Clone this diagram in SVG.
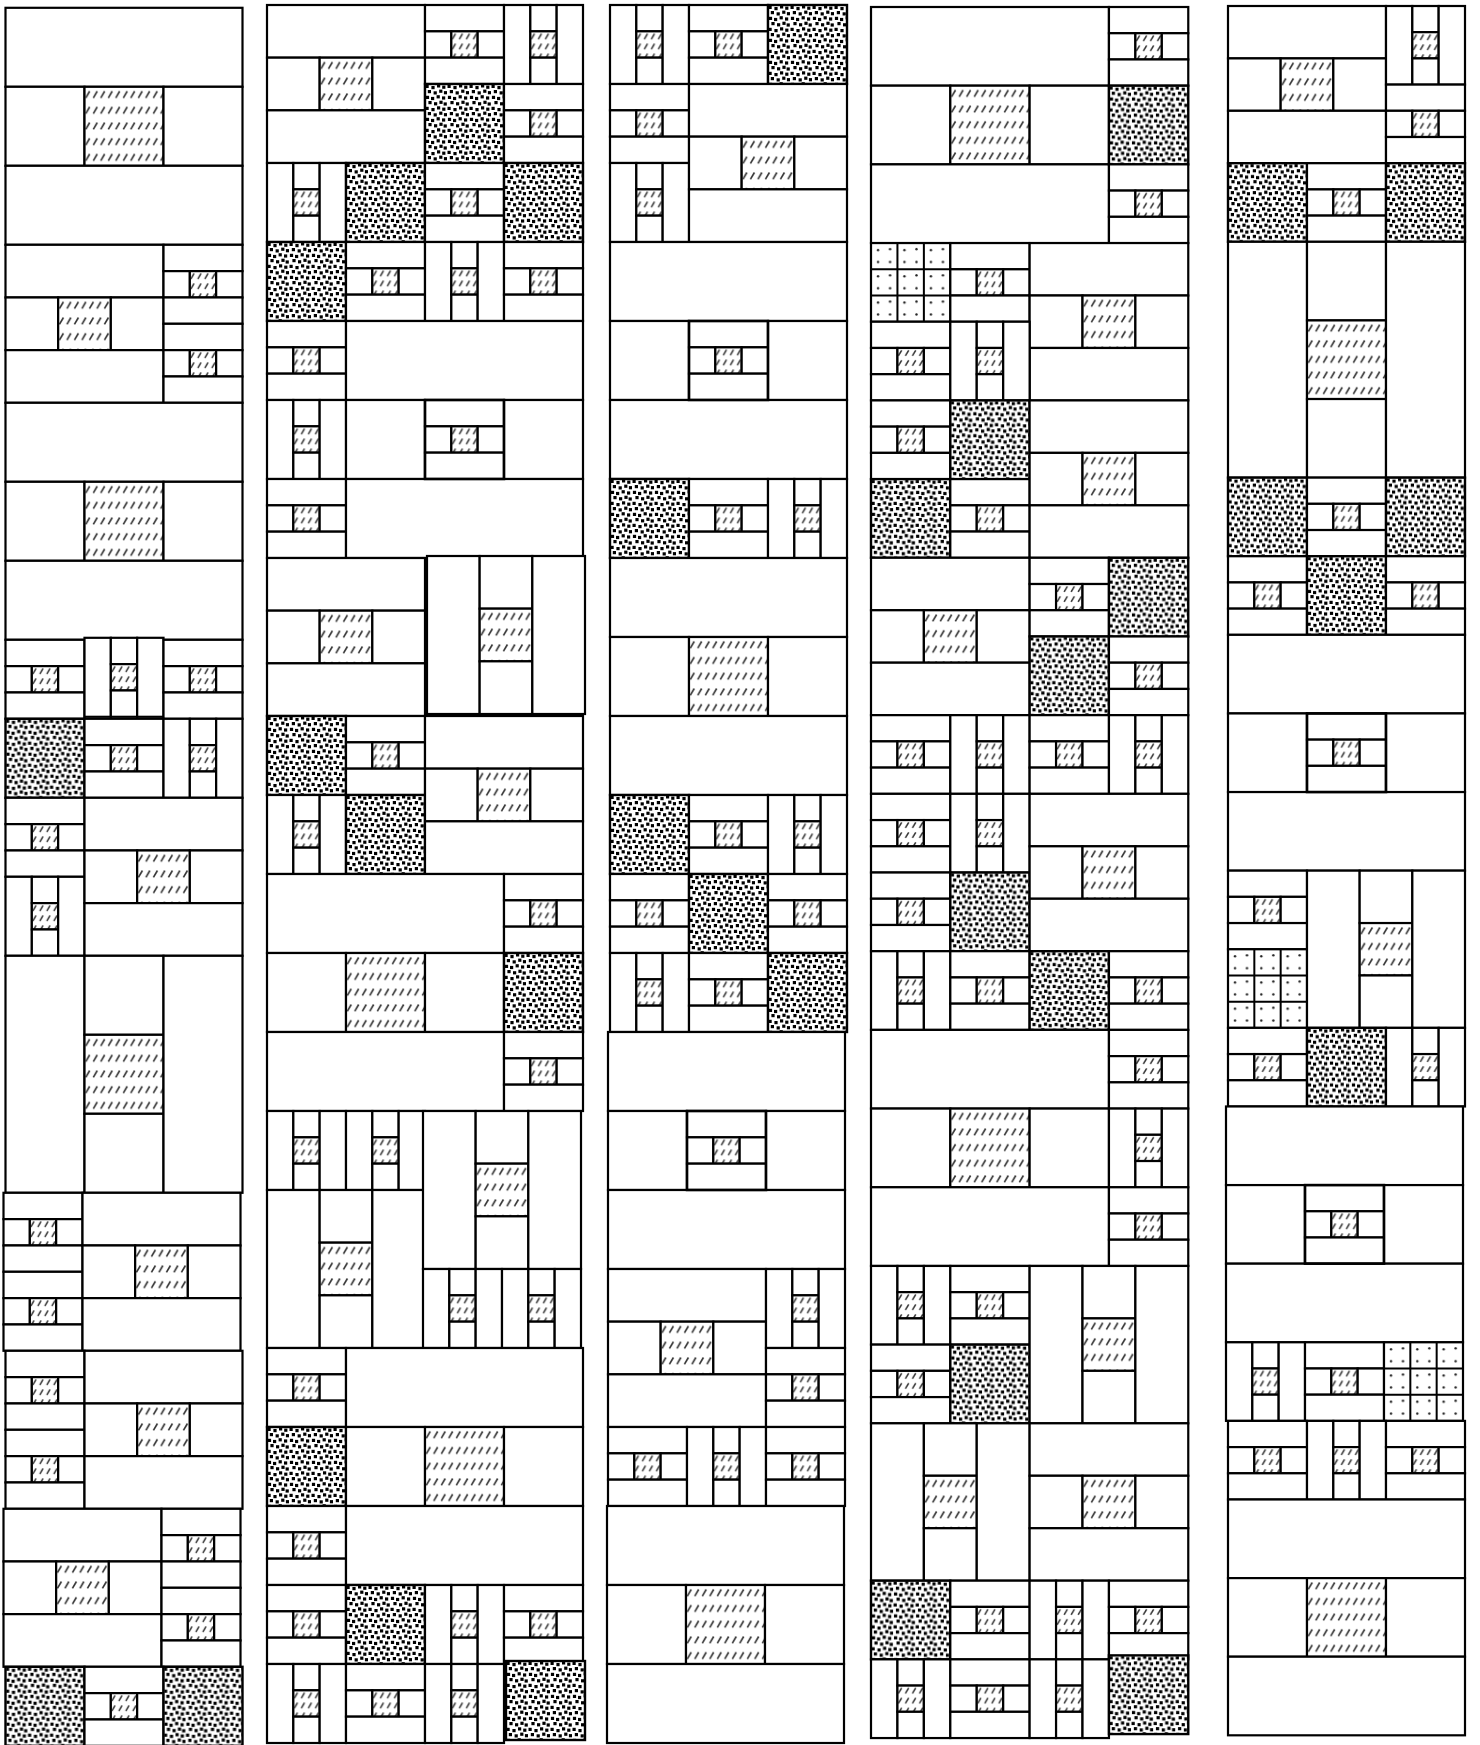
<svg xmlns="http://www.w3.org/2000/svg" width="1480" height="1745" viewBox="0 0 1480 1745">
<style>
.w{fill:#fff;stroke:#000;stroke-width:2.2}
.hs{fill:url(#pS);stroke:#000;stroke-width:2.2}
.hl{fill:url(#pL);stroke:#000;stroke-width:2.2}
.dd{fill:url(#pD);stroke:#000;stroke-width:2.4}
</style>
<defs>
<pattern id="pS" patternUnits="userSpaceOnUse" width="7" height="10"><rect width="7" height="10" fill="#fff"/><line x1="1" y1="7.8" x2="4.2" y2="2.3" stroke="#333" stroke-width="1.5"/></pattern>
<pattern id="pL" patternUnits="userSpaceOnUse" width="7.5" height="15.7"><rect width="7.5" height="15.7" fill="#fff"/><line x1="1.3" y1="11.2" x2="5.2" y2="4.4" stroke="#333" stroke-width="1.6"/></pattern>
<pattern id="pD" patternUnits="userSpaceOnUse" width="22" height="22"><rect width="22" height="22" fill="#fff"/><g fill="#000">
<rect x="0.5" y="0.8" width="3.2" height="3.2"/><rect x="6.4" y="2.0" width="3.2" height="3.2"/><rect x="12.0" y="0.3" width="3.2" height="3.2"/><rect x="17.2" y="1.6" width="3.2" height="3.2"/>
<rect x="2.8" y="6.0" width="3.2" height="3.2"/><rect x="8.6" y="7.3" width="3.2" height="3.2"/><rect x="14.2" y="5.6" width="3.2" height="3.2"/><rect x="18.9" y="7.1" width="3.1" height="3.2"/>
<rect x="0.9" y="11.8" width="3.2" height="3.2"/><rect x="6.0" y="12.9" width="3.2" height="3.2"/><rect x="11.6" y="11.2" width="3.2" height="3.2"/><rect x="17.0" y="12.4" width="3.2" height="3.2"/>
<rect x="3.4" y="17.0" width="3.2" height="3.2"/><rect x="9.0" y="18.2" width="3.2" height="3.2"/><rect x="14.4" y="16.7" width="3.2" height="3.2"/><rect x="18.6" y="18.4" width="3.2" height="3.2"/>
</g></pattern>
<pattern id="pG" patternUnits="userSpaceOnUse" width="26.333" height="26.333"><rect width="26.333" height="26.333" fill="#fff"/><g fill="#222"><circle cx="7" cy="7" r="1.2"/><circle cx="19" cy="6" r="1.2"/><circle cx="7" cy="19" r="1.2"/><circle cx="19" cy="19" r="1.2"/></g></pattern>
<rect id="hatS" class="hs" width="26.333" height="26.333"/>
<rect id="hatM" class="hl" width="52.667" height="52.667"/>
<rect id="hatL" class="hl" width="79" height="79"/>
<rect id="dd" class="dd" width="79" height="79"/>
<g id="gg"><rect width="79" height="79" fill="url(#pG)"/><path d="M26.333 0V79M52.667 0V79M0 26.333H79M0 52.667H79" stroke="#000" stroke-width="2" fill="none"/><rect width="79" height="79" fill="none" stroke="#000" stroke-width="2.2"/></g>
<g id="hb1"><rect class="w" width="79" height="26.333"/><rect class="w" y="26.333" width="26.333" height="26.333"/><use href="#hatS" x="26.333" y="26.333"/><rect class="w" x="52.667" y="26.333" width="26.333" height="26.333"/><rect class="w" y="52.667" width="79" height="26.333"/></g>
<g id="vb1"><rect class="w" width="26.333" height="79"/><rect class="w" x="26.333" width="26.333" height="26.333"/><use href="#hatS" x="26.333" y="26.333"/><rect class="w" x="26.333" y="52.667" width="26.333" height="26.333"/><rect class="w" x="52.667" width="26.333" height="79"/></g>
<g id="hb2"><rect class="w" width="158" height="52.667"/><rect class="w" y="52.667" width="52.667" height="52.667"/><use href="#hatM" x="52.667" y="52.667"/><rect class="w" x="105.333" y="52.667" width="52.667" height="52.667"/><rect class="w" y="105.333" width="158" height="52.667"/></g>
<g id="vb2"><rect class="w" width="52.667" height="158"/><rect class="w" x="52.667" width="52.667" height="52.667"/><use href="#hatM" x="52.667" y="52.667"/><rect class="w" x="52.667" y="105.333" width="52.667" height="52.667"/><rect class="w" x="105.333" width="52.667" height="158"/></g>
<g id="hb3"><rect class="w" width="237" height="79"/><rect class="w" y="79" width="79" height="79"/><use href="#hatL" x="79" y="79"/><rect class="w" x="158" y="79" width="79" height="79"/><rect class="w" y="158" width="237" height="79"/></g>
<g id="hb3n"><rect class="w" width="237" height="79"/><rect class="w" y="79" width="79" height="79"/><use href="#hb1" x="79" y="79"/><rect class="w" x="158" y="79" width="79" height="79"/><rect class="w" y="158" width="237" height="79"/><rect x="79" y="79" width="79" height="79" fill="none" stroke="#000" stroke-width="2.5"/></g>
<g id="vb3"><rect class="w" width="79" height="237"/><rect class="w" x="79" width="79" height="79"/><use href="#hatL" x="79" y="79"/><rect class="w" x="79" y="158" width="79" height="79"/><rect class="w" x="158" width="79" height="237"/></g>
</defs>
<rect width="1480" height="1745" fill="#fff"/>
<g id="column1" transform="translate(5.5,7.8)">
<use href="#hb3"/>
<use href="#hb2" y="237"/><use href="#hb1" x="158" y="237"/><use href="#hb1" x="158" y="316"/>
<use href="#hb3" y="395"/>
<use href="#hb1" y="632"/><use href="#vb1" x="79" y="630"/><use href="#hb1" x="158" y="632"/>
<use href="#dd" y="711"/><use href="#hb1" x="79" y="711"/><use href="#vb1" x="158" y="711"/>
<use href="#hb1" y="790"/><use href="#vb1" y="869"/><use href="#hb2" x="79" y="790"/>
<use href="#vb3" y="948"/>
<use href="#hb1" x="-2" y="1185"/><use href="#hb1" x="-2" y="1264"/><use href="#hb2" x="77" y="1185"/>
<use href="#hb1" y="1343"/><use href="#hb1" y="1422"/><use href="#hb2" x="79" y="1343"/>
<use href="#hb2" x="-2" y="1501"/><use href="#hb1" x="156" y="1501"/><use href="#hb1" x="156" y="1580"/>
<use href="#dd" y="1659"/><use href="#hb1" x="79" y="1659"/><use href="#dd" x="158" y="1659"/>
</g>
<g id="column2" transform="translate(267,5)">
<use href="#hb2"/><use href="#hb1" x="158"/><use href="#vb1" x="237"/><use href="#dd" x="158" y="79"/><use href="#hb1" x="237" y="79"/>
<use href="#vb1" y="158"/><use href="#dd" x="79" y="158"/><use href="#hb1" x="158" y="158"/><use href="#dd" x="237" y="158"/>
<use href="#dd" y="237"/><use href="#hb1" x="79" y="237"/><use href="#vb1" x="158" y="237"/><use href="#hb1" x="237" y="237"/>
<use href="#hb1" y="316"/><use href="#vb1" y="395"/><use href="#hb1" y="474"/><use href="#hb3n" x="79" y="316"/>
<use href="#hb2" y="553"/><use href="#vb2" x="160" y="551"/>
<use href="#dd" y="711"/><use href="#vb1" y="790"/><use href="#hb1" x="79" y="711"/><use href="#dd" x="79" y="790"/><use href="#hb2" x="158" y="711"/>
<use href="#hb3" y="869"/><use href="#hb1" x="237" y="869"/><use href="#dd" x="237" y="948"/><use href="#hb1" x="237" y="1027"/>
<use href="#vb1" y="1106"/><use href="#vb1" x="79" y="1106"/><use href="#vb2" y="1185"/><use href="#vb2" x="156" y="1106"/><use href="#vb1" x="156" y="1264"/><use href="#vb1" x="235" y="1264"/>
<use href="#hb1" y="1343"/><use href="#dd" y="1422"/><use href="#hb1" y="1501"/><use href="#hb3" x="79" y="1343"/>
<use href="#hb1" y="1580"/><use href="#dd" x="79" y="1580"/><use href="#vb1" x="158" y="1580"/><use href="#hb1" x="237" y="1580"/>
<use href="#vb1" y="1659"/><use href="#hb1" x="79" y="1659"/><use href="#vb1" x="158" y="1659"/><use href="#dd" x="239" y="1656"/>
</g>
<g id="column3" transform="translate(610,5)">
<use href="#vb1"/><use href="#hb1" x="79"/><use href="#dd" x="158"/>
<use href="#hb1" y="79"/><use href="#vb1" y="158"/><use href="#hb2" x="79" y="79"/>
<use href="#hb3n" y="237"/>
<use href="#dd" y="474"/><use href="#hb1" x="79" y="474"/><use href="#vb1" x="158" y="474"/>
<use href="#hb3" y="553"/>
<use href="#dd" y="790"/><use href="#hb1" x="79" y="790"/><use href="#vb1" x="158" y="790"/>
<use href="#hb1" y="869"/><use href="#dd" x="79" y="869"/><use href="#hb1" x="158" y="869"/>
<use href="#vb1" y="948"/><use href="#hb1" x="79" y="948"/><use href="#dd" x="158" y="948"/>
<use href="#hb3n" x="-2" y="1027"/>
<use href="#hb2" x="-2" y="1264"/><use href="#vb1" x="156" y="1264"/><use href="#hb1" x="156" y="1343"/>
<use href="#hb1" x="-2" y="1422"/><use href="#vb1" x="77" y="1422"/><use href="#hb1" x="156" y="1422"/>
<use href="#hb3" x="-3" y="1501"/>
</g>
<g id="column4" transform="translate(871,7) scale(1.004,0.996)">
<use href="#hb3"/><use href="#hb1" x="237"/><use href="#dd" x="237" y="79"/><use href="#hb1" x="237" y="158"/>
<use href="#gg" y="237"/><use href="#hb1" x="79" y="237"/><use href="#hb2" x="158" y="237"/><use href="#hb1" y="316"/><use href="#vb1" x="79" y="316"/>
<use href="#hb1" y="395"/><use href="#dd" x="79" y="395"/><use href="#dd" y="474"/><use href="#hb1" x="79" y="474"/><use href="#hb2" x="158" y="395"/>
<use href="#hb2" y="553"/><use href="#hb1" x="158" y="553"/><use href="#dd" x="237" y="553"/><use href="#dd" x="158" y="632"/><use href="#hb1" x="237" y="632"/>
<use href="#hb1" y="711"/><use href="#vb1" x="79" y="711"/><use href="#hb1" x="158" y="711"/><use href="#vb1" x="237" y="711"/>
<use href="#hb1" y="790"/><use href="#vb1" x="79" y="790"/><use href="#hb1" y="869"/><use href="#dd" x="79" y="869"/><use href="#hb2" x="158" y="790"/>
<use href="#vb1" y="948"/><use href="#hb1" x="79" y="948"/><use href="#dd" x="158" y="948"/><use href="#hb1" x="237" y="948"/>
<use href="#hb3" y="1027"/><use href="#hb1" x="237" y="1027"/><use href="#vb1" x="237" y="1106"/><use href="#hb1" x="237" y="1185"/>
<use href="#vb1" y="1264"/><use href="#hb1" x="79" y="1264"/><use href="#hb1" y="1343"/><use href="#dd" x="79" y="1343"/><use href="#vb2" x="158" y="1264"/>
<use href="#vb2" y="1422"/><use href="#hb2" x="158" y="1422"/>
<use href="#dd" y="1580"/><use href="#hb1" x="79" y="1580"/><use href="#vb1" x="158" y="1580"/><use href="#hb1" x="237" y="1580"/>
<use href="#vb1" y="1659"/><use href="#hb1" x="79" y="1659"/><use href="#vb1" x="158" y="1659"/><use href="#dd" x="237" y="1655"/>
</g>
<g id="column5" transform="translate(1228,6) scale(1,0.995)">
<use href="#hb2"/><use href="#vb1" x="158"/><use href="#hb1" x="158" y="79"/>
<use href="#dd" y="158"/><use href="#hb1" x="79" y="158"/><use href="#dd" x="158" y="158"/>
<use href="#vb3" y="237"/>
<use href="#dd" y="474"/><use href="#hb1" x="79" y="474"/><use href="#dd" x="158" y="474"/>
<use href="#hb1" y="553"/><use href="#dd" x="79" y="553"/><use href="#hb1" x="158" y="553"/>
<use href="#hb3n" y="632"/>
<use href="#hb1" y="869"/><use href="#gg" y="948"/><use href="#vb2" x="79" y="869"/>
<use href="#hb1" y="1027"/><use href="#dd" x="79" y="1027"/><use href="#vb1" x="158" y="1027"/>
<use href="#hb3n" x="-2" y="1106"/>
<use href="#vb1" x="-2" y="1343"/><use href="#hb1" x="77" y="1343"/><use href="#gg" x="156" y="1343"/>
<use href="#hb1" y="1422"/><use href="#vb1" x="79" y="1422"/><use href="#hb1" x="158" y="1422"/>
<use href="#hb3" y="1501"/>
</g>
</svg>
